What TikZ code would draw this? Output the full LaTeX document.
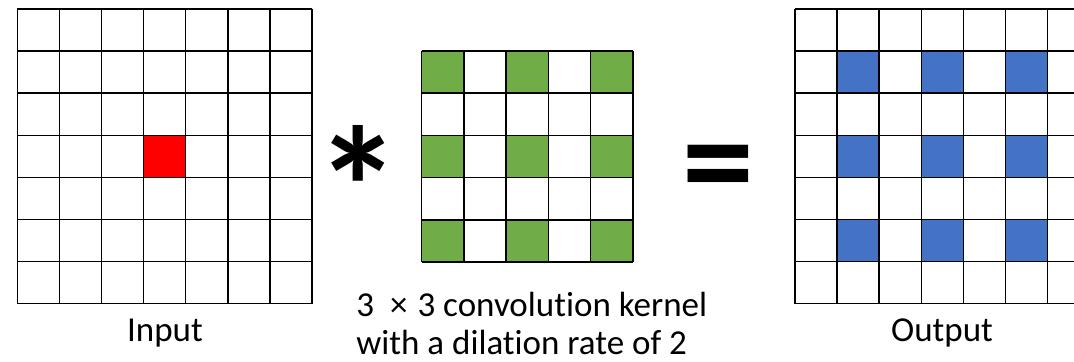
\documentclass[tikz,border=0pt]{standalone}
\usepackage{fontspec}
\setmainfont{Carlito}[Ligatures=NoCommon]
\usetikzlibrary{positioning}
\definecolor{myred}{RGB}{255,0,0}
\definecolor{mygreen}{RGB}{112,173,71}
\definecolor{myblue}{RGB}{68,114,196}
\tikzset{
  gridline/.style={line width=0.75pt, color=black},
  redcell/.style={fill=myred},
  greencell/.style={fill=mygreen},
  bluecell/.style={fill=myblue},
  caption/.style={font=\fontsize{17.5}{19}\selectfont, inner sep=0pt},
  opsign/.style={font=\bfseries, inner sep=0pt, anchor=base}
}
\begin{document}
\begin{tikzpicture}[x=0.5pt, y=-0.5pt]
  \useasboundingbox (0,0) rectangle (1074,362);

  % Input grid
  \fill[redcell] (143.6,135.3) rectangle +(42.1,42.1);
  \foreach \i in {0,...,7}{
    \draw[gridline] (17.3+42.1*\i,9) -- (17.3+42.1*\i,303.7);
    \draw[gridline] (17.3,9+42.1*\i) -- (312,9+42.1*\i);
  }

  % Kernel grid
  \foreach \i in {0,2,4}
    \foreach \j in {0,2,4}
      \fill[greencell] (421.7+42.25*\i,51+42.25*\j) rectangle +(42.25,42.25);
  \foreach \i in {0,...,5}{
    \draw[gridline] (421.7+42.25*\i,51) -- (421.7+42.25*\i,262.2);
    \draw[gridline] (421.7,51+42.25*\i) -- (633,51+42.25*\i);
  }

  % Output grid
  \foreach \i in {1,3,5}
    \foreach \j in {1,3,5}
      \fill[bluecell] (795+42.1*\i,9+42.1*\j) rectangle +(42.1,42.1);
  \foreach \i in {0,...,6}
    \draw[gridline] (795+42.1*\i,9) -- (795+42.1*\i,303.7);
  \foreach \i in {0,...,7}
    \draw[gridline] (795,9+42.1*\i) -- (1074,9+42.1*\i);

  % Signs
  \node[opsign] (star) at (358,249) {\fontsize{86}{86}\selectfont *};
  \node[opsign] (equal) at (718,210) {\fontsize{72}{72}\selectfont =};

  % Captions
  \node[caption, anchor=base] (input) at (165,342) {Input};
  \node[caption, anchor=base] (output) at (942,342) {Output};
  \node[caption, anchor=base west] (kernel) at (356,317) {3\hspace{8pt}×\hspace{5pt}3 convolution kernel};
  \node[caption, anchor=base west] (dilation) at (356,355) {with a dilation rate of 2};
\end{tikzpicture}
\end{document}
